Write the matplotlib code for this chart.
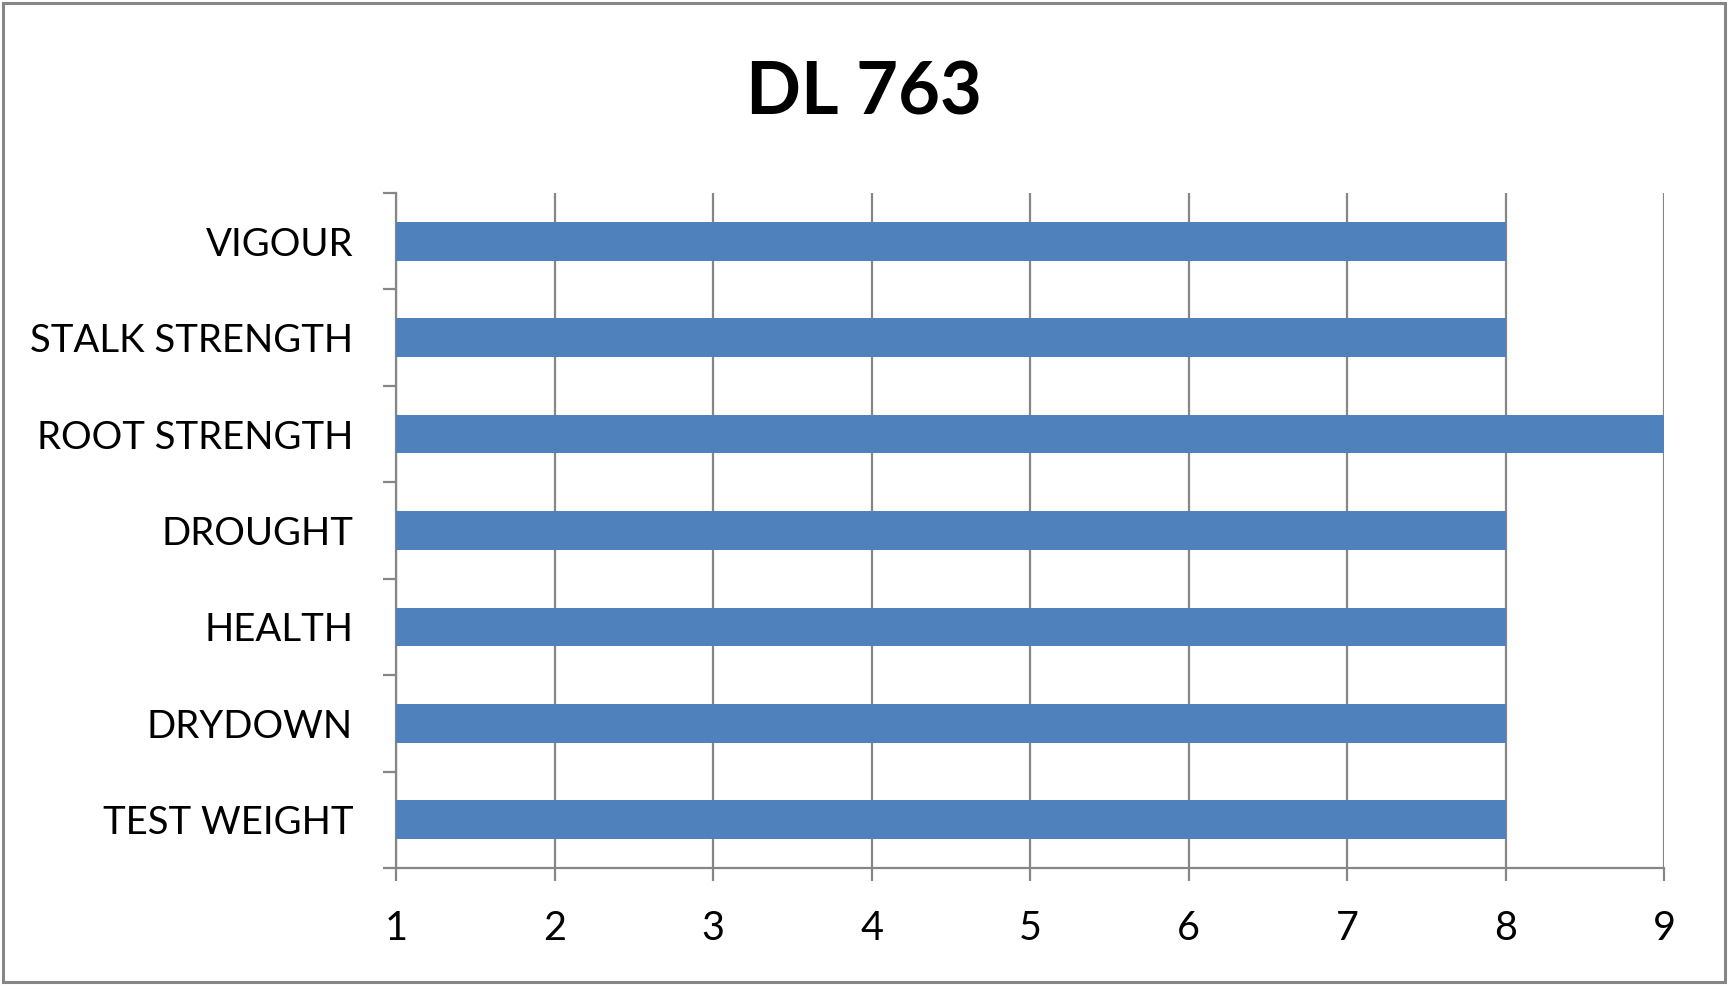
import numpy as np
import matplotlib
matplotlib.use('Agg')
import matplotlib.pyplot as plt
from matplotlib.patches import Rectangle

# data
categories = ['VIGOUR', 'STALK STRENGTH', 'ROOT STRENGTH', 'DROUGHT',
              'HEALTH', 'DRYDOWN', 'TEST WEIGHT']
scores = [8, 8, 9, 8, 8, 8, 8]
x_ticks = [1, 2, 3, 4, 5, 6, 7, 8, 9]
title = 'DL 763'

bar_color = '#4F81BD'
grid_color = '#868686'

plt.rcParams['font.family'] = ['Lato', 'DejaVu Sans']

fig = plt.figure(figsize=(17.28, 9.85), dpi=100)
ax = fig.add_axes([0.2292, 0.1188, 0.963 - 0.2292, 0.804 - 0.1188])

y = np.arange(len(categories))
ax.barh(y, scores, height=0.4, color=bar_color, zorder=3)

ax.set_xlim(1, 9)
ax.set_ylim(len(categories) - 0.5, -0.5)
ax.set_xticks(x_ticks)
ax.set_yticks(y)
ax.set_yticklabels(categories)
ax.set_yticks(np.arange(len(categories) + 1) - 0.5, minor=True)

ax.grid(axis='x', color=grid_color, linewidth=1.6, zorder=0)
for s in ['top', 'right']:
    ax.spines[s].set_visible(False)
for s in ['left', 'bottom']:
    ax.spines[s].set_color(grid_color)
    ax.spines[s].set_linewidth(1.6)

ax.tick_params(axis='y', which='major', length=0, pad=31, labelsize=27.6)
ax.tick_params(axis='y', which='minor', length=9.4, width=1.6, color=grid_color)
ax.tick_params(axis='x', length=9.4, width=1.6, color=grid_color, pad=21, labelsize=28.5)

fig.text(0.5, 0.905, title, ha='center', va='center', fontsize=52, fontweight='bold')

# chart border
fig.patches.append(Rectangle((0.002, 0.003), 0.996, 0.994, transform=fig.transFigure,
                             fill=False, edgecolor=grid_color, linewidth=2.2))

fig.savefig('out.png', dpi=100)
